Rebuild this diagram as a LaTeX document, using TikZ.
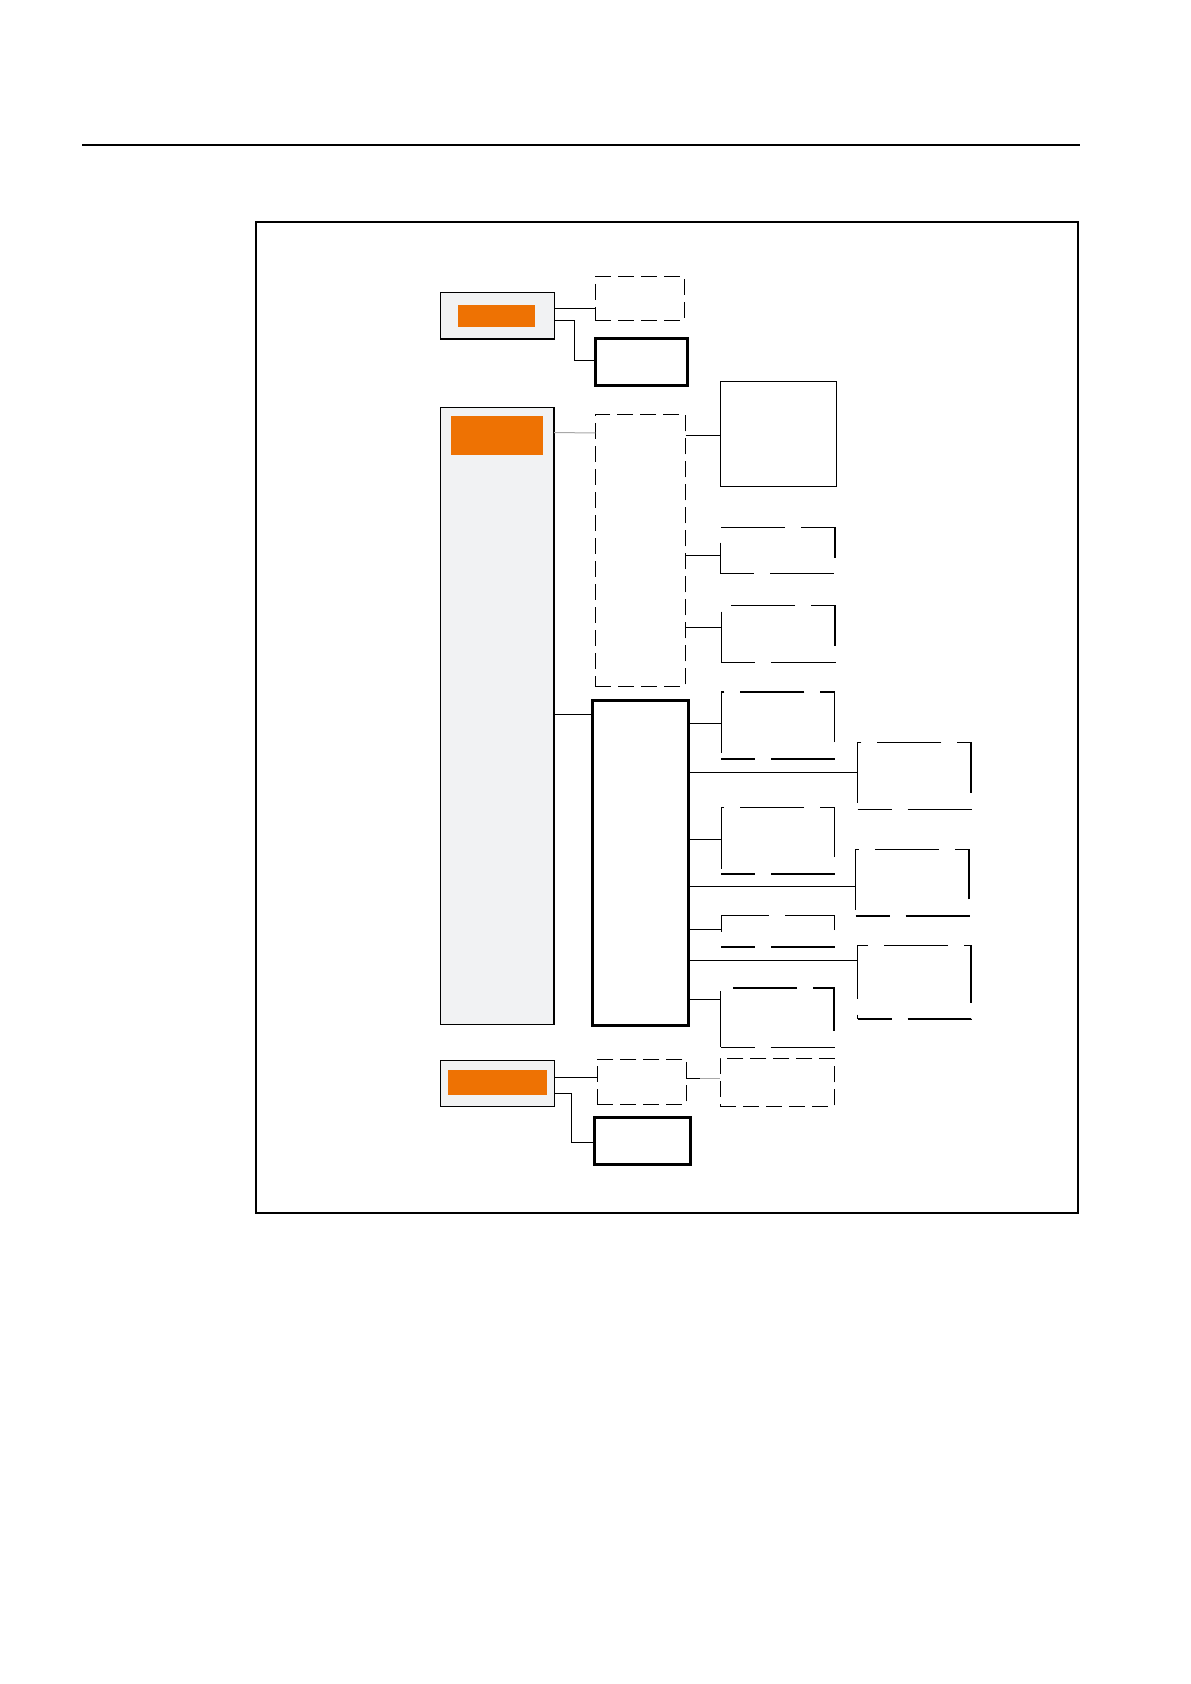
\documentclass[tikz,border=0pt]{standalone}
\usepackage{tikz}
\usetikzlibrary{positioning}

\definecolor{boxorange}{HTML}{EE7203}
\definecolor{boxgray}{HTML}{F1F2F3}
\definecolor{linkgray}{HTML}{A8A8A8}

\tikzset{
  blk/.style={draw,inner sep=0pt,outer sep=0pt},
  panel/.style={blk,fill=boxgray,line width=0.7pt},
  tag/.style={inner sep=0pt,outer sep=0pt,fill=boxorange},
  shortdash/.style={blk,line width=0.5pt,dash pattern=on 8pt off 3.5pt},
  longdash/.style={blk,line width=0.8pt,dash pattern=on 32pt off 8pt,dash phase=15pt},
  thickbox/.style={blk,line width=1.5pt},
  link/.style={line width=0.5pt}
}

\begin{document}
\begin{tikzpicture}[x=0.5pt,y=-0.5pt]
\useasboundingbox (0,0) rectangle (1190,1684);

\draw[line width=1pt] (82,145) -- (1080,145);
\node[blk,line width=1pt,minimum width=411pt,minimum height=495.5pt] (frame) at (667,717.5) {};

% top group
\node[panel,minimum width=56.8pt,minimum height=23.2pt] (G1) at (497.5,316) {};
\node[tag,minimum width=38.3pt,minimum height=10.8pt] (O1) at (496.3,315.8) {};
\node[shortdash,minimum width=44.5pt,minimum height=22.3pt] (D1) at (639.8,298.7) {};
\node[thickbox,minimum width=46pt,minimum height=23.3pt] (T1) at (641,362.3) {};
\draw[link] (G1.east |- 0,308.3) -- (D1.west |- 0,308.3);
\draw[link] (G1.east |- 0,321) -| (574,361) -- (T1.west |- 0,361);

% main column
\node[panel,minimum width=56.85pt,minimum height=308.5pt] (G2) at (497.2,715.8) {};
\node[tag,minimum width=46pt,minimum height=19.5pt] (O2) at (497,435.5) {};
\node[shortdash,minimum width=45.2pt,minimum height=135.5pt] (D2) at (640.5,550.5) {};
\node[thickbox,minimum width=48pt,minimum height=162.5pt] (T2) at (640,862.5) {};
\node[blk,line width=0.6pt,minimum width=58.2pt,minimum height=52.3pt] (S1) at (778.5,434) {};
\draw[link,linkgray] (G2.east |- 0,432.5) -- (D2.west |- 0,433);
\draw[link] (G2.east |- 0,714) -- (T2.west |- 0,714);
\draw[link] (D2.east |- 0,435.3) -- (S1.west |- 0,435.3);

\foreach \nm/\cx/\cy/\w/\h in {L1/777.5/550.3/57.2/23, L2/778/633.8/56.7/28.5,
    L3/777.8/725.5/56.5/33.5, L4/914.3/775.8/56.7/33.5, L5/777.8/840.7/56.5/33.4,
    L6/912.3/882.8/56.7/33.2, L7/777.8/931.3/56.5/15.7, L8/914.3/982.2/56.7/36.9,
    L9/777.3/1017.5/56.7/29.8}
  \node[longdash,minimum width=\w pt,minimum height=\h pt] (\nm) at (\cx,\cy) {};

\foreach \src/\dst/\yy in {D2/L1/555, D2/L2/627.3, T2/L3/723.3, T2/L4/772.3,
    T2/L5/839.3, T2/L6/886.3, T2/L7/929.3, T2/L8/960.3, T2/L9/999.3}
  \draw[link] (\src.east |- 0,\yy) -- (\dst.west |- 0,\yy);

% bottom group
\node[panel,minimum width=57pt,minimum height=22.8pt] (G3) at (497.3,1083.5) {};
\node[tag,minimum width=49.3pt,minimum height=12.5pt] (O3) at (497.7,1082.5) {};
\node[shortdash,minimum width=44.5pt,minimum height=22.5pt] (D3) at (641.8,1081.8) {};
\node[shortdash,minimum width=57pt,minimum height=24pt] (D4) at (777.3,1082.3) {};
\node[thickbox,minimum width=48pt,minimum height=23.2pt] (T3) at (642,1140.8) {};
\coordinate (D34) at (700,1078);
\draw[link] (G3.east |- 0,1077.3) -- (D3.west |- 0,1077.3);
\draw[link] (D3.east |- D34) -- (D34);
\draw[link,linkgray] (D34) -- (D4.west |- D34);
\draw[link] (G3.east |- 0,1093.3) -| (571.7,1142.3) -- (T3.west |- 0,1142.3);
\end{tikzpicture}
\end{document}
